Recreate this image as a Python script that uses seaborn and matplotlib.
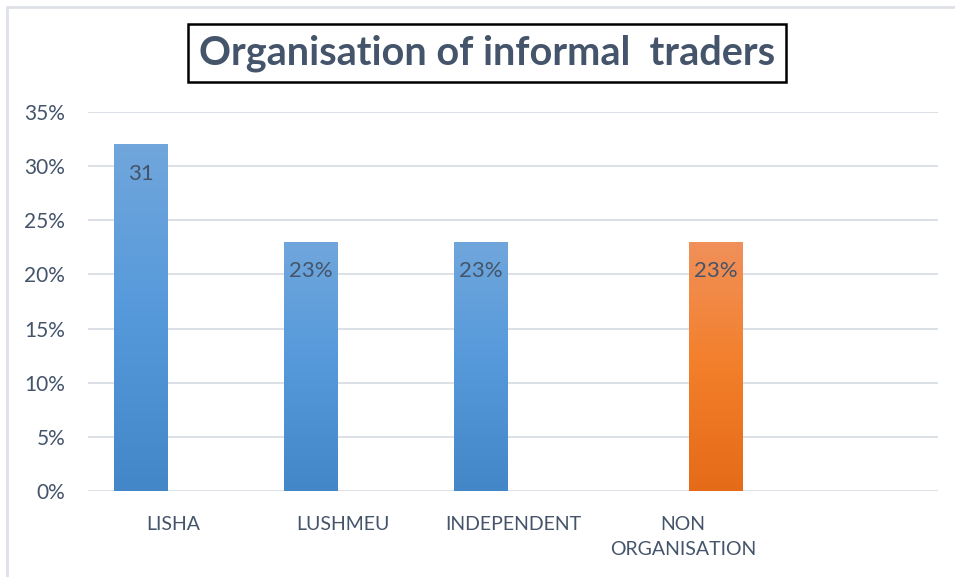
import numpy as np
import pandas as pd
import matplotlib
matplotlib.use("Agg")
import matplotlib.pyplot as plt
from matplotlib.colors import LinearSegmentedColormap
from matplotlib.patches import Rectangle
import seaborn as sns

# Dados
categorias = ["LISHA", "LUSHMEU", "INDEPENDENT", "NON\nORGANISATION"]
series = ["organizado", "organizado", "organizado", "nao_organizado"]
valores = [0.32, 0.23, 0.23, 0.23]
rotulos = ["31", "23%", "23%", "23%"]
ordem = categorias + [""]  # slot vazio no fim, como no original

df = pd.DataFrame({"Categoria": categorias, "Serie": series, "Valor": valores})

sns.set_theme(style="white")
plt.rcParams["font.family"] = ["Lato", "DejaVu Sans"]

fig = plt.figure(figsize=(9.55, 5.77), dpi=100)
ax = fig.add_axes([88 / 955, 86 / 577, 850 / 955, 379 / 577])

cores = {"organizado": "#4F95D6", "nao_organizado": "#EF7B2A"}
sns.barplot(data=df, x="Categoria", y="Valor", hue="Serie", order=ordem,
            hue_order=["organizado", "nao_organizado"], palette=cores,
            dodge=True, width=0.765, gap=0.184, legend=False, ax=ax, errorbar=None)

ax.set_ylim(0, 0.35)
ax.set_xlim(-0.5, 4.5)
ax.set_yticks(np.arange(0, 0.36, 0.05))
ax.set_yticklabels([f"{int(round(v * 100))}%" for v in np.arange(0, 0.36, 0.05)])
ax.yaxis.grid(True, color="#D9DEE5", linewidth=1.3)
ax.set_axisbelow(True)
for s in ax.spines.values():
    s.set_visible(False)
ax.set_xlabel("")
ax.set_ylabel("")
ax.tick_params(axis="y", colors="#44546A", labelsize=15, length=0, pad=16.5)
ax.tick_params(axis="x", colors="#44546A", labelsize=14, length=0, pad=18)
for t in ax.get_xticklabels():
    t.set_linespacing(1.6)
    t.set_verticalalignment("top")

# gradiente estilo Excel nas barras
grad = {
    "organizado": LinearSegmentedColormap.from_list("b", ["#4487C8", "#5599DB", "#70A6DC"]),
    "nao_organizado": LinearSegmentedColormap.from_list("o", ["#E56B18", "#F37F2A", "#F0905A"]),
}
barras = [p for p in ax.patches if p.get_height() > 0]
for p in barras:
    x0, w, h = p.get_x(), p.get_width(), p.get_height()
    centro = x0 + w / 2
    idx = int(round(centro))
    serie = series[idx] if idx < len(series) else "organizado"
    p.set_facecolor("none")
    p.set_edgecolor("none")
    img = ax.imshow(np.linspace(0, 1, 100).reshape(-1, 1), cmap=grad[serie],
                    extent=[x0, x0 + w, 0, h], origin="lower", aspect="auto", zorder=2)
    img.set_clip_path(p)
    txt = rotulos[idx]
    ax.text(centro, h - 0.027, txt, ha="center", va="center",
            fontsize=16, color="#44546A", zorder=3)
ax.set_aspect("auto")
ax.set_xlim(-0.5, 4.5)
ax.set_ylim(0, 0.35)

# titulo com caixa
fig.text(487 / 955, 1 - 53 / 577, "Organisation of informal  traders",
         ha="center", va="center", fontsize=28.5, fontweight="bold", color="#44546A",
         bbox=dict(boxstyle="square,pad=0.27", facecolor="white", edgecolor="black", linewidth=1.8))

# borda do gráfico
fig.add_artist(Rectangle((7 / 955, -0.01), 1.0, 1 - 7 / 577 + 0.01, transform=fig.transFigure,
                         fill=False, edgecolor="#DEE2E8", linewidth=2))

fig.savefig("out.png", dpi=100)
